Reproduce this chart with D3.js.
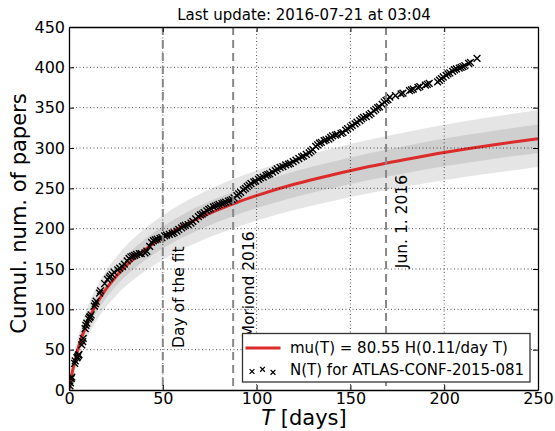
<!DOCTYPE html>
<html>
<head>
<meta charset="utf-8">
<script src="https://cdn.jsdelivr.net/npm/d3@7"></script>
<style>
  body { margin: 0; background: #fff; }
  svg { font-family: "DejaVu Sans", sans-serif; }
</style>
</head>
<body>
<svg id="chart" width="555" height="431"></svg>
<script>
// fitted expectation mu(T) and its poisson spread
const fitDays  = [0, 1, 2, 3, 5, 7, 10, 15, 20, 25, 30, 40, 50, 60, 70, 80, 90, 100, 120, 140, 160, 180, 200, 225, 250];
const fitMu    = [0, 13, 25, 35, 52.5, 67, 85, 108, 126, 140.5, 153, 173, 189, 202.5, 214, 224, 233, 241, 255, 266.5, 277, 286, 294.5, 303.5, 311.5];
const fitSigma = [0, 3.6, 5, 5.9, 7.2, 8.2, 9.2, 10.4, 11.2, 11.9, 12.4, 13.2, 13.7, 14.2, 14.6, 15, 15.3, 15.5, 16, 16.3, 16.6, 16.9, 17.2, 17.4, 17.6];

// N(T): cumulative number of papers citing ATLAS-CONF-2015-081
const paperDays = [
  0.5, 0.8, 1.2, 1.5, 3, 3.3, 4.2, 4.6, 5, 5.3,
  6.8, 7.3, 7.6, 8.6, 9, 9.5, 10.5, 11, 11.3, 11.8,
  13.5, 14, 14.5, 16.3, 16.8, 19, 20.5, 21.5, 22, 23,
  24, 26, 27, 28.5, 29.5, 31, 32, 33, 34, 35,
  36, 37.5, 38.5, 40.5, 41.5, 43, 44, 45, 46, 47,
  48.5, 49.5, 51, 52, 53.5, 55, 56, 57.5, 58.5, 60,
  61, 62, 63.5, 65, 66, 67.5, 69, 70, 71, 72,
  73.5, 74.5, 75.5, 77, 78, 79, 80, 81.5, 82.5, 83.5,
  85, 86, 87, 88, 89.5, 90.5, 91.5, 93, 94, 95,
  96, 97, 98.5, 99.5, 101, 102, 103.5, 105, 106, 107,
  108.5, 110, 111, 112.5, 114, 115.5, 117, 118, 119.5, 121,
  122.5, 124, 125, 126.5, 128, 129, 130, 131.5, 132.5, 133.5,
  134.5, 136, 137, 138.5, 139.5, 140.5, 142, 143, 145, 146,
  147.5, 148.5, 150, 151, 152.5, 153.5, 155, 156, 157, 158.5,
  160, 161, 162.5, 163.5, 164.5, 165.5, 167, 168, 169, 170,
  171, 174, 177, 178, 181.5, 182.5, 183.5, 186, 187, 190,
  191, 192, 196.5, 197.5, 198.5, 199.5, 201, 202, 203, 204.5,
  205.5, 206.5, 208, 209, 210, 211, 213, 214, 217.5
];
const paperCounts = [
  5, 9, 14, 16, 33, 36, 40, 41, 43, 44,
  56, 60, 64, 76, 80, 83, 88, 90, 91, 93,
  104, 107, 110, 120, 123, 132, 137, 139, 141, 143,
  146, 149, 151, 153, 156, 160, 163, 165, 166, 167,
  168, 169, 169, 170, 172, 178, 183, 185, 186, 187,
  188, 189, 191, 192, 193, 194, 195, 197, 199, 201,
  203, 204, 205, 207, 209, 212, 215, 217, 218, 220,
  222, 224, 225, 227, 228, 229, 230, 231, 232, 233,
  234, 235, 236, 238, 241, 243, 245, 248, 250, 252,
  254, 256, 258, 259, 261, 263, 264, 266, 267, 268,
  270, 272, 274, 276, 277, 279, 280, 281, 283, 285,
  287, 289, 290, 292, 294, 296, 298, 302, 304, 306,
  307, 309, 310, 311, 313, 315, 316, 317, 318, 319,
  322, 324, 326, 328, 330, 332, 334, 336, 338, 339,
  341, 343, 346, 348, 350, 351, 354, 357, 359, 360,
  363, 365, 367, 368, 371, 372, 373, 375, 376, 378,
  379, 380, 382, 384, 386, 388, 390, 392, 393, 395,
  397, 398, 399, 400, 401, 402, 405, 406, 411
];

// reference dates
const eventDays   = [50, 87.5, 169];
const eventLabels = ["Day of the fit", "Moriond 2016", "Jun. 1. 2016"];

const xTicks = [0, 50, 100, 150, 200, 250];
const yTicks = [0, 50, 100, 150, 200, 250, 300, 350, 400, 450];

const titleText  = "Last update: 2016-07-21 at 03:04";
const legendText = ["mu(T) = 80.55 H(0.11/day T)", "N(T) for ATLAS-CONF-2015-081"];

const WIDTH = 555, HEIGHT = 431;
const PAD = {left: 69, right: 17, top: 27, bottom: 41};
const RED = "#dc2b2b";

let svg = d3.select("#chart");

let xScale = d3.scaleLinear().domain([0, 250]).range([PAD.left, WIDTH - PAD.right]);
let yScale = d3.scaleLinear().domain([0, 450]).range([HEIGHT - PAD.bottom, PAD.top]);

svg.append("clipPath").attr("id", "plotclip")
  .append("rect")
  .attr("x", PAD.left).attr("y", PAD.top)
  .attr("width", WIDTH - PAD.left - PAD.right)
  .attr("height", HEIGHT - PAD.top - PAD.bottom);

let fit = fitDays.map((t, i) => ({t: t, mu: fitMu[i], s: fitSigma[i]}));
let plot = svg.append("g").attr("clip-path", "url(#plotclip)");

// 2 sigma and 1 sigma bands
let band = k => d3.area()
  .x(d => xScale(d.t))
  .y0(d => yScale(d.mu - k * d.s))
  .y1(d => yScale(d.mu + k * d.s))
  .curve(d3.curveMonotoneX);

plot.append("path").datum(fit).attr("d", band(2)).attr("fill", "#e5e5e5");
plot.append("path").datum(fit).attr("d", band(1)).attr("fill", "#cfcfcf");

// dotted grid
let grid = svg.append("g").attr("stroke", "#000").attr("stroke-width", 0.8)
  .attr("stroke-dasharray", "1,2.5").attr("opacity", 0.85);
grid.selectAll(".gx").data(xTicks.slice(1, -1)).join("line")
  .attr("x1", d => xScale(d)).attr("x2", d => xScale(d))
  .attr("y1", PAD.top).attr("y2", HEIGHT - PAD.bottom);
grid.selectAll(".gy").data(yTicks.slice(1, -1)).join("line")
  .attr("y1", d => yScale(d)).attr("y2", d => yScale(d))
  .attr("x1", PAD.left).attr("x2", WIDTH - PAD.right);

// vertical marker lines
svg.append("g").selectAll("line").data(eventDays).join("line")
  .attr("x1", d => xScale(d)).attr("x2", d => xScale(d))
  .attr("y1", PAD.top).attr("y2", HEIGHT - PAD.bottom)
  .attr("stroke", "#888").attr("stroke-width", 2).attr("stroke-dasharray", "8,5");

// fitted curve
let line = d3.line().x(d => xScale(d.t)).y(d => yScale(d.mu)).curve(d3.curveMonotoneX);
plot.append("path").datum(fit).attr("d", line)
  .attr("fill", "none").attr("stroke", RED).attr("stroke-width", 3);

// data as x markers
function cross(g, x, y, r, w) {
  g.append("path")
    .attr("d", `M${x - r},${y - r}L${x + r},${y + r}M${x - r},${y + r}L${x + r},${y - r}`)
    .attr("stroke", "#000").attr("stroke-width", w).attr("fill", "none");
}
let marks = plot.append("g");
paperDays.forEach((t, i) => cross(marks, xScale(t), yScale(paperCounts[i]), 3.4, 1.4));

// rotated labels next to the marker lines
let labelStart = [52, 64, 151];
svg.append("g").selectAll("text").data(eventDays).join("text")
  .attr("transform", (d, i) => `translate(${xScale(d) + 21},${yScale(labelStart[i])}) rotate(-90)`)
  .style("font-size", "15.5px")
  .attr("fill", "#000")
  .text((d, i) => eventLabels[i]);

// axes, ticks pointing in on all four sides
let xAxis = d3.axisBottom(xScale).tickValues(xTicks).tickSizeInner(-5).tickSizeOuter(0).tickPadding(3);
let yAxis = d3.axisLeft(yScale).tickValues(yTicks).tickSizeInner(-5).tickSizeOuter(0).tickPadding(4);

let gx = svg.append("g").attr("transform", `translate(0,${HEIGHT - PAD.bottom})`).call(xAxis);
let gy = svg.append("g").attr("transform", `translate(${PAD.left},0)`).call(yAxis);
svg.append("g").attr("transform", `translate(0,${PAD.top})`)
  .call(d3.axisTop(xScale).tickValues(xTicks).tickSizeInner(-5).tickSizeOuter(0).tickFormat(""));
svg.append("g").attr("transform", `translate(${WIDTH - PAD.right},0)`)
  .call(d3.axisRight(yScale).tickValues(yTicks).tickSizeInner(-5).tickSizeOuter(0).tickFormat(""));

svg.selectAll(".domain").attr("stroke", "#000").attr("stroke-width", 1.3);
svg.selectAll(".tick line").attr("stroke", "#000");
gx.selectAll("text").style("font-size", "16px").style("font-family", "DejaVu Sans").attr("fill", "#000");
gy.selectAll("text").style("font-size", "16px").style("font-family", "DejaVu Sans").attr("fill", "#000");

// axis titles and header
svg.append("text")
  .attr("transform", `translate(26,${(PAD.top + HEIGHT - PAD.bottom) / 2 + 5}) rotate(-90)`)
  .attr("text-anchor", "middle")
  .style("font-size", "21px")
  .text("Cumul. num. of papers");

let xl = svg.append("text")
  .attr("x", 304).attr("y", 425)
  .attr("text-anchor", "middle")
  .style("font-size", "21px");
xl.append("tspan").style("font-style", "italic").text("T");
xl.append("tspan").text(" [days]");

svg.append("text")
  .attr("x", 304).attr("y", 20)
  .attr("text-anchor", "middle")
  .style("font-size", "15px")
  .text(titleText);

// legend
let legend = svg.append("g").attr("transform", "translate(242.5,333.5)");
legend.append("rect")
  .attr("width", 287.5).attr("height", 48.5)
  .attr("fill", "#fff").attr("stroke", "#333").attr("stroke-width", 1.3);
legend.append("line")
  .attr("x1", 3).attr("x2", 38).attr("y1", 14.5).attr("y2", 14.5)
  .attr("stroke", RED).attr("stroke-width", 3);
let legendMarkX = [9.5, 20, 30.5];
let legendMarkY = [38, 35.8, 38.8];
legendMarkX.forEach((x, i) => cross(legend, x, legendMarkY[i], 2.4, 1.3));
legend.selectAll(".lt").data(legendText).join("text")
  .attr("x", 47.5)
  .attr("y", (d, i) => 19.5 + i * 22)
  .style("font-size", "15px")
  .text(d => d);
</script>
</body>
</html>
